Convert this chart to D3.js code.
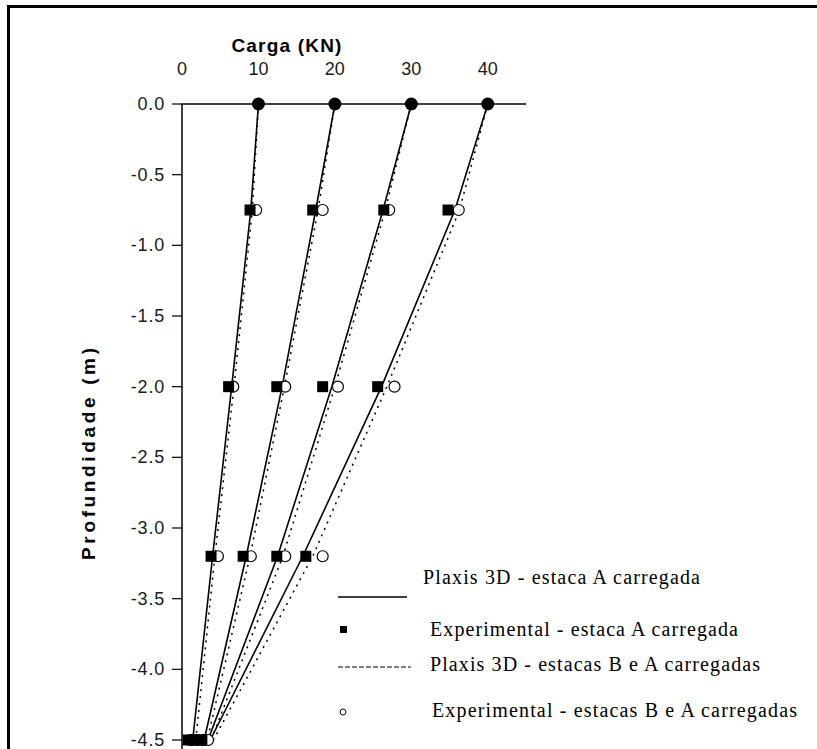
<!DOCTYPE html>
<html>
<head>
<meta charset="utf-8">
<script src="https://cdn.jsdelivr.net/npm/d3@7"></script>
<style>
  body { margin: 0; background: #fff; }
  .tick-label { font-family: "Liberation Sans", Arial, sans-serif; font-size: 18px; fill: #1a1a1a; }
  .axis-title { font-family: "Liberation Sans", Arial, sans-serif; font-size: 19px; font-weight: bold; fill: #000; }
  .legend-text { font-family: "Liberation Serif", "Times New Roman", serif; font-size: 20px; fill: #000; }
</style>
</head>
<body>
<script>
'use strict';

// depth levels (m) shared by every series
var depths = [0, -0.75, -2.0, -3.2, -4.5];
// applied loads at the pile head (kN), one curve per load
var loads = [10, 20, 30, 40];

// Plaxis 3D - estaca A carregada (solid lines), one row per load
var plaxisA = [
  [10, 9.0, 6.5, 4.0, 1.4],
  [20, 17.5, 13.1, 8.4, 2.9],
  [30, 26.3, 19.6, 12.5, 3.4],
  [40, 35.7, 26.1, 15.8, 3.7]
];
// Plaxis 3D - estacas B e A carregadas (dashed lines)
var plaxisBA = [
  [10, 9.2, 6.8, 4.3, 1.8],
  [20, 17.8, 13.4, 8.9, 3.3],
  [30, 26.6, 20.0, 13.2, 3.8],
  [40, 36.3, 26.8, 17.1, 4.1]
];
// Experimental - estaca A carregada (squares)
var expA = [
  [10, 8.9, 6.1, 3.8, 0.8],
  [20, 17.1, 12.4, 8.0, 1.4],
  [30, 26.4, 18.4, 12.4, 2.0],
  [40, 34.8, 25.6, 16.2, 2.6]
];
// Experimental - estacas B e A carregadas (open circles)
var expBA = [
  [10, 9.7, 6.7, 4.7, 1.2],
  [20, 18.4, 13.5, 9.0, 2.0],
  [30, 27.1, 20.4, 13.5, 2.8],
  [40, 36.2, 27.8, 18.4, 3.4]
];

var xTicks = [0, 10, 20, 30, 40];
var yTicks = [0, -0.5, -1.0, -1.5, -2.0, -2.5, -3.0, -3.5, -4.0, -4.5];
var legendLabels = [
  "Plaxis 3D - estaca A carregada",
  "Experimental - estaca A carregada",
  "Plaxis 3D - estacas B e A carregadas",
  "Experimental - estacas B e A carregadas"
];

var chart = {};
chart.width = 817;
chart.height = 749;

chart.x = d3.scaleLinear().domain([0, 45]).range([182, 526]);
chart.y = d3.scaleLinear().domain([0, -4.5]).range([104, 740]);

chart.toPoints = function(row){
  return row.map(function(v, i){ return [v, depths[i]]; });
};

chart.drawFrame = function(svg){
  svg.append("path")
    .attr("d", "M8.5," + chart.height + "V6.5H" + chart.width)
    .attr("fill", "none")
    .attr("stroke", "#000")
    .attr("stroke-width", 3);
};

chart.drawAxes = function(svg){
  var x = chart.x, y = chart.y;

  // top axis line at depth 0 and left axis line
  svg.append("line")
    .attr("x1", x(0)).attr("x2", x(45))
    .attr("y1", y(0)).attr("y2", y(0))
    .attr("stroke", "#000").attr("stroke-width", 1.5);
  svg.append("line")
    .attr("x1", x(0)).attr("x2", x(0))
    .attr("y1", y(0)).attr("y2", chart.height)
    .attr("stroke", "#000").attr("stroke-width", 1.5);

  svg.selectAll(".ytick")
    .data(yTicks)
    .enter()
      .append("line")
      .attr("x1", x(0) - 10).attr("x2", x(0))
      .attr("y1", function(d){ return y(d); })
      .attr("y2", function(d){ return y(d); })
      .attr("stroke", "#000").attr("stroke-width", 1.2);

  svg.selectAll(".ylabel")
    .data(yTicks)
    .enter()
      .append("text")
      .classed("tick-label", true)
      .attr("x", x(0) - 17)
      .attr("y", function(d){ return y(d); })
      .attr("dy", "0.33em")
      .attr("text-anchor", "end")
      .attr("letter-spacing", 0.8)
      .text(function(d){ return d3.format(".1f")(d).replace("−", "-"); });

  svg.selectAll(".xlabel")
    .data(xTicks)
    .enter()
      .append("text")
      .classed("tick-label", true)
      .attr("x", function(d){ return x(d); })
      .attr("y", 69)
      .attr("dy", "0.35em")
      .attr("text-anchor", "middle")
      .text(function(d){ return d; });

  svg.append("text")
    .classed("axis-title", true)
    .attr("x", 287).attr("y", 45)
    .attr("dy", "0.35em")
    .attr("text-anchor", "middle")
    .attr("letter-spacing", 1.2)
    .text("Carga (KN)");

  svg.append("text")
    .classed("axis-title", true)
    .attr("transform", "translate(88,454) rotate(-90)")
    .attr("dy", "0.35em")
    .attr("text-anchor", "middle")
    .attr("textLength", 212)
    .attr("lengthAdjust", "spacing")
    .text("Profundidade (m)");
};

chart.drawLines = function(svg){
  var line = d3.line()
    .x(function(d){ return chart.x(d[0]); })
    .y(function(d){ return chart.y(d[1]); });

  svg.selectAll(".plaxis-ba")
    .data(plaxisBA)
    .enter()
      .append("path")
      .attr("d", function(row){ return line(chart.toPoints(row)); })
      .attr("fill", "none")
      .attr("stroke", "#000")
      .attr("stroke-width", 1.5)
      .attr("stroke-dasharray", "2,5");

  svg.selectAll(".plaxis-a")
    .data(plaxisA)
    .enter()
      .append("path")
      .attr("d", function(row){ return line(chart.toPoints(row)); })
      .attr("fill", "none")
      .attr("stroke", "#000")
      .attr("stroke-width", 1.6);
};

chart.drawMarkers = function(svg){
  var x = chart.x, y = chart.y;
  var circlePts = [], squarePts = [];
  expBA.forEach(function(row){ chart.toPoints(row).forEach(function(p){ circlePts.push(p); }); });
  expA.forEach(function(row){ chart.toPoints(row).forEach(function(p){ squarePts.push(p); }); });

  svg.selectAll(".exp-ba")
    .data(circlePts.filter(function(p){ return p[1] !== 0; }))
    .enter()
      .append("circle")
      .attr("cx", function(d){ return x(d[0]); })
      .attr("cy", function(d){ return y(d[1]); })
      .attr("r", 5.5)
      .attr("fill", "#fff")
      .attr("stroke", "#000")
      .attr("stroke-width", 1.2);

  svg.selectAll(".exp-a")
    .data(squarePts.filter(function(p){ return p[1] !== 0; }))
    .enter()
      .append("rect")
      .attr("x", function(d){ return x(d[0]) - 5.5; })
      .attr("y", function(d){ return y(d[1]) - 5.5; })
      .attr("width", 11)
      .attr("height", 11)
      .attr("fill", "#000");

  // at the pile head both experimental series coincide: drawn as solid dots
  svg.selectAll(".exp-top")
    .data(squarePts.filter(function(p){ return p[1] === 0; }))
    .enter()
      .append("circle")
      .attr("cx", function(d){ return x(d[0]); })
      .attr("cy", function(d){ return y(d[1]); })
      .attr("r", 6.5)
      .attr("fill", "#000");
};

chart.drawLegend = function(svg){
  var rows = [577, 629, 664, 710];
  var g = svg.append("g");

  g.append("line")
    .attr("x1", 338).attr("x2", 407)
    .attr("y1", 597).attr("y2", 597)
    .attr("stroke", "#000").attr("stroke-width", 1.5);
  g.append("rect")
    .attr("x", 340).attr("y", rows[1] - 3)
    .attr("width", 7).attr("height", 7)
    .attr("fill", "#000");
  g.append("line")
    .attr("x1", 338).attr("x2", 411)
    .attr("y1", 667).attr("y2", 667)
    .attr("stroke", "#000").attr("stroke-width", 1.2)
    .attr("stroke-dasharray", "5,2");
  g.append("circle")
    .attr("cx", 343).attr("cy", rows[3] + 2)
    .attr("r", 3)
    .attr("fill", "#fff").attr("stroke", "#000").attr("stroke-width", 1);

  var textX = [423, 430, 430, 432];
  var textW = [277, 308, 330, 365];
  g.selectAll(".legend-text")
    .data(legendLabels)
    .enter()
      .append("text")
      .classed("legend-text", true)
      .attr("x", function(d, i){ return textX[i]; })
      .attr("y", function(d, i){ return rows[i]; })
      .attr("dy", "0.35em")
      .attr("textLength", function(d, i){ return textW[i]; })
      .attr("lengthAdjust", "spacing")
      .text(function(d){ return d; });
};

chart.run = function(){
  var svg = d3.select("body")
    .append("svg")
    .attr("width", chart.width)
    .attr("height", chart.height);

  chart.drawFrame(svg);
  chart.drawAxes(svg);
  chart.drawLines(svg);
  chart.drawMarkers(svg);
  chart.drawLegend(svg);
};

window.onload = chart.run;
</script>
</body>
</html>
